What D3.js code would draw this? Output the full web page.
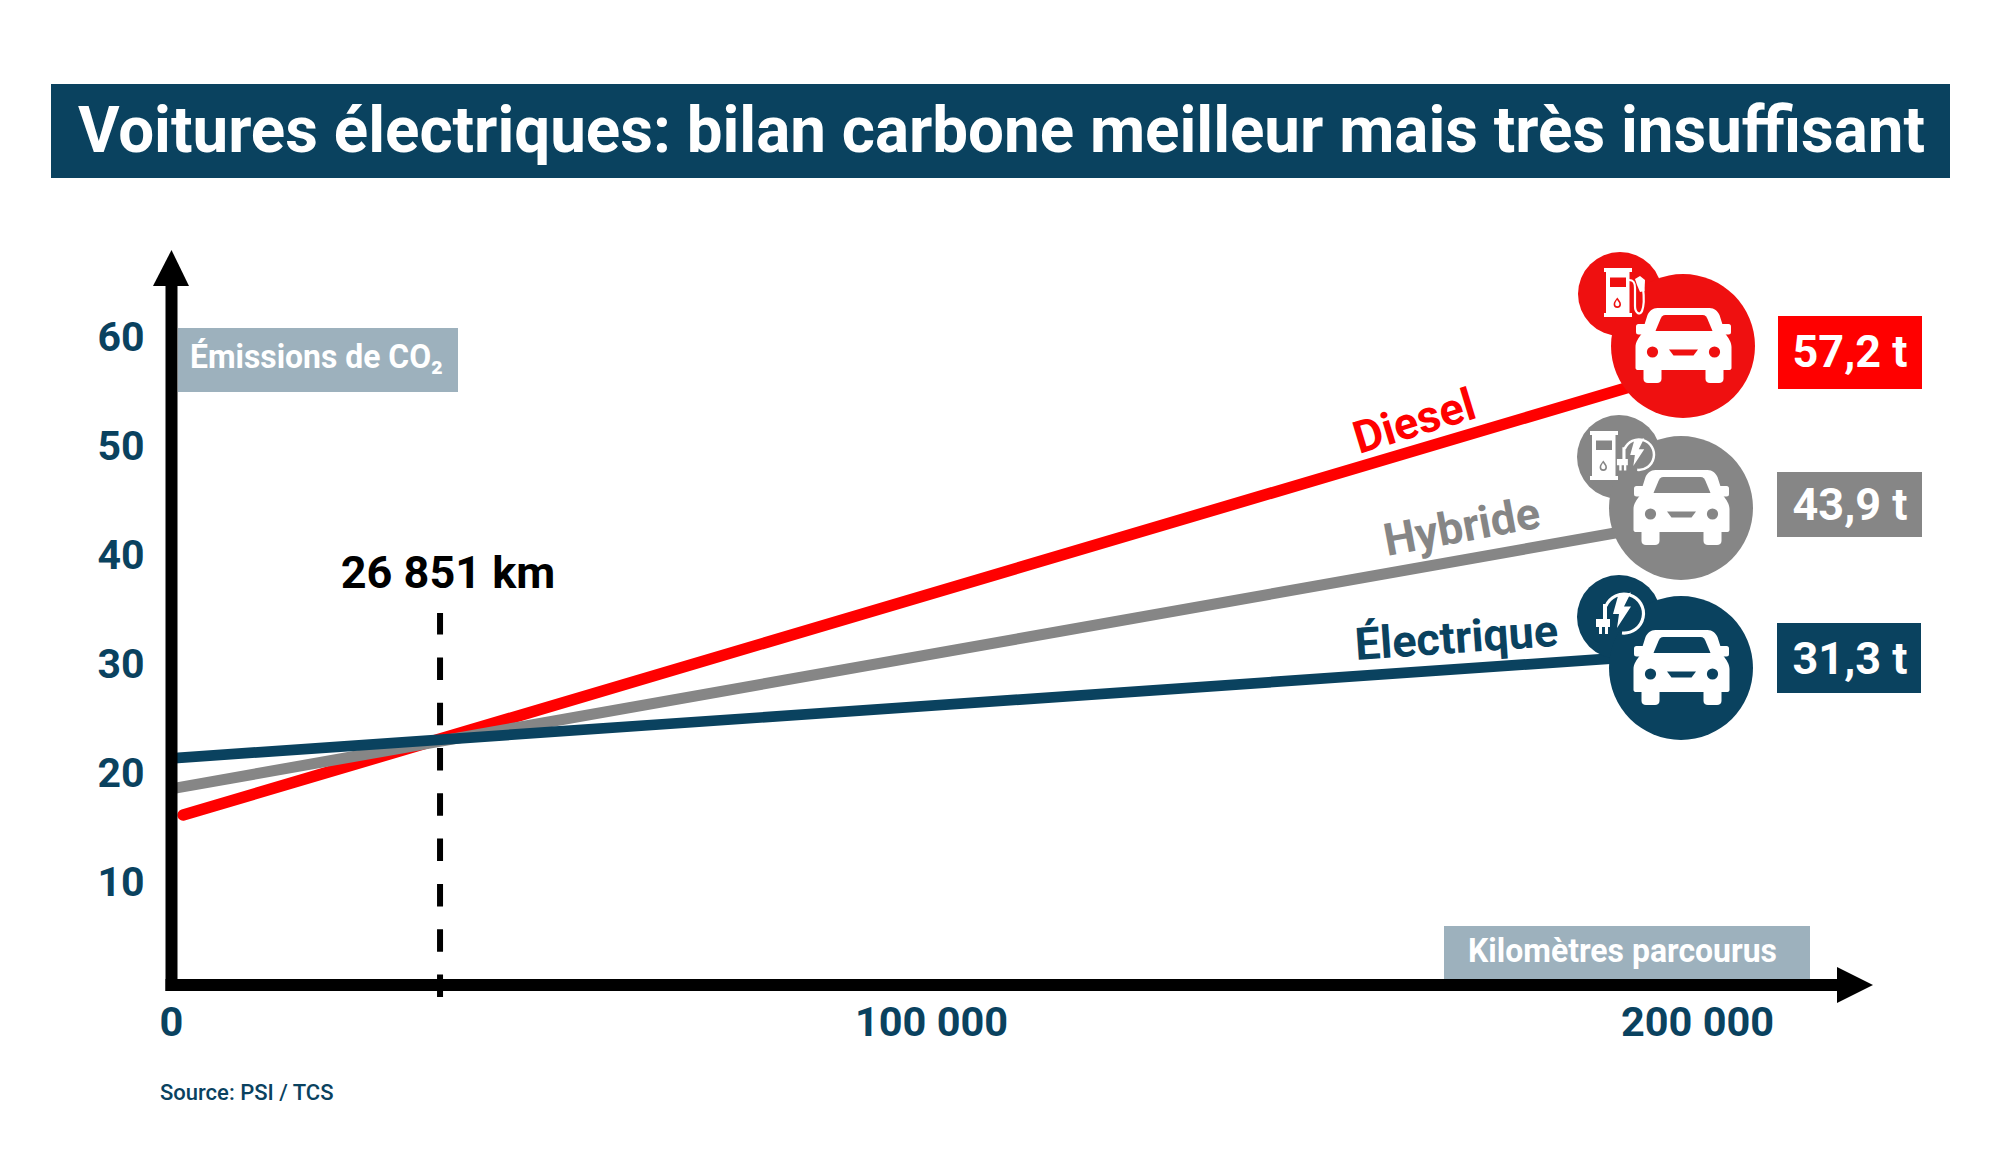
<!DOCTYPE html>
<html lang="fr">
<head>
<meta charset="utf-8">
<script src="https://cdn.jsdelivr.net/npm/d3@7"></script>
<style>
  body { margin: 0; background: #fff; }
  text { font-family: Roboto, sans-serif; font-weight: 700; }
</style>
</head>
<body>
<script>
// values
const kmTicks = [0, 100000, 200000];
const co2Ticks = [10, 20, 30, 40, 50, 60];
const seriesNames = ["Diesel", "Hybride", "Électrique"];
const endLabels = ["57,2 t", "43,9 t", "31,3 t"];
const dieselLine = [[1600, 16.1], [200000, 57.2]];
const hybridLine = [[0, 18.5], [200000, 43.3]];
const electricLine = [[0, 21.3], [200000, 31]];
// the dashed marker does not sit at 26 851 on the km axis in the original
const markerKm = 35400;
const markerLabel = "26 851 km";

const navy = "#0a425f", red = "#ff0000", grey = "#868686", pale = "#9db1bd";

const svg = d3.select("body").append("svg")
  .attr("width", 2000).attr("height", 1167);

// tick labels in the original are not quite evenly spaced
const x = d3.scaleLinear().domain([0, 100000, 200000]).range([171, 931, 1697]);
const y = d3.scaleLinear().domain([0, 60]).range([990.5, 336.5]);
const fr = d3.formatLocale({ decimal: ",", thousands: " ", grouping: [3], currency: ["", ""] });

// title
svg.append("rect").attr("x", 51).attr("y", 84).attr("width", 1899).attr("height", 94).attr("fill", navy);
svg.append("text").attr("x", 78).attr("y", 152)
  .attr("font-size", 64).attr("fill", "#fff")
  .attr("textLength", 1847).attr("lengthAdjust", "spacingAndGlyphs")
  .text("Voitures électriques: bilan carbone meilleur mais très insuffisant");

// axis captions
svg.append("rect").attr("x", 178).attr("y", 328).attr("width", 280).attr("height", 64).attr("fill", pale);
svg.append("text").attr("x", 190).attr("y", 368)
  .attr("font-size", 33).attr("fill", "#fff").attr("textLength", 253).attr("lengthAdjust", "spacingAndGlyphs")
  .text("Émissions de CO₂");

svg.append("rect").attr("x", 1444).attr("y", 926).attr("width", 366).attr("height", 53).attr("fill", pale);
svg.append("text").attr("x", 1468).attr("y", 962)
  .attr("font-size", 33).attr("fill", "#fff").attr("textLength", 309).attr("lengthAdjust", "spacingAndGlyphs")
  .text("Kilomètres parcourus");

// dashed marker
svg.append("line")
  .attr("x1", x(markerKm)).attr("x2", x(markerKm)).attr("y1", 997).attr("y2", 613)
  .attr("stroke", "#000").attr("stroke-width", 6).attr("stroke-dasharray", "22.5 22.8");
svg.append("text").attr("x", 448).attr("y", 588)
  .attr("text-anchor", "middle").attr("font-size", 45).attr("fill", "#000")
  .text(markerLabel);

// lines
const line = d3.line().x(d => x(d[0])).y(d => y(d[1]));
svg.append("path").datum(dieselLine).attr("d", line)
  .attr("fill", "none").attr("stroke", red).attr("stroke-width", 11.5).attr("stroke-linecap", "round");
svg.append("path").datum(hybridLine).attr("d", line)
  .attr("fill", "none").attr("stroke", grey).attr("stroke-width", 11);
svg.append("path").datum(electricLine).attr("d", line)
  .attr("fill", "none").attr("stroke", navy).attr("stroke-width", 10.7);

// black axes with arrow heads
svg.append("line").attr("x1", 171.5).attr("x2", 171.5).attr("y1", 991).attr("y2", 280)
  .attr("stroke", "#000").attr("stroke-width", 12);
svg.append("path").attr("d", "M153,286L171.5,250L189,286Z").attr("fill", "#000");
svg.append("line").attr("x1", 165.5).attr("x2", 1845).attr("y1", 985).attr("y2", 985)
  .attr("stroke", "#000").attr("stroke-width", 12);
svg.append("path").attr("d", "M1837,967L1873,985L1837,1003Z").attr("fill", "#000");

// tick labels
const yAxis = svg.append("g").attr("transform", "translate(156,1)")
  .call(d3.axisLeft(y).tickValues(co2Ticks).tickSize(0).tickPadding(11.5));
const xAxis = svg.append("g").attr("transform", "translate(0,985)")
  .call(d3.axisBottom(x).tickValues(kmTicks).tickSize(0).tickPadding(22).tickFormat(fr.format(",")));
[yAxis, xAxis].forEach(a => {
  a.select(".domain").remove();
  a.selectAll("text").attr("fill", navy)
    .style("font-family", "Roboto, sans-serif").style("font-weight", 700);
});
yAxis.selectAll("text").attr("font-size", 41);
xAxis.selectAll("text").attr("font-size", 41.5);

// series labels along the lines
const labelPlacing = [
  { x: 1359, y: 454, angle: -17, size: 45, fill: red },
  { x: 1387, y: 556, angle: -10.5, size: 45, fill: grey },
  { x: 1356, y: 660, angle: -4, size: 45, fill: navy }
];
seriesNames.forEach((name, i) => {
  const p = labelPlacing[i];
  svg.append("text")
    .attr("transform", `translate(${p.x},${p.y}) rotate(${p.angle})`)
    .attr("font-size", p.size).attr("fill", p.fill).text(name);
});

// icons, drawn around their own centre
function drawCar(g, bg) {
  g.append("path").attr("fill", "#fff").attr("d",
    "M-26,-38H26C31,-38 34,-35 36,-31L42,-12C45,-8 48,-4 48,1V22C48,23 47,24 46,24H40V33" +
    "C40,35.5 38,37 35.5,37H26.5C24,37 22,35.5 22,33V24H-22V33" +
    "C-22,35.5 -24,37 -26.5,37H-35.5C-38,37 -40,35.5 -40,33V24H-46C-47,24 -48,23 -48,22V1" +
    "C-48,-4 -45,-8 -42,-12L-36,-31C-34,-35 -31,-38 -26,-38Z");
  g.append("rect").attr("x", -47.5).attr("y", -22).attr("width", 13).attr("height", 10.5).attr("rx", 2.5).attr("fill", "#fff");
  g.append("rect").attr("x", 34.5).attr("y", -22).attr("width", 13).attr("height", 10.5).attr("rx", 2.5).attr("fill", "#fff");
  g.append("path").attr("fill", bg).attr("d", "M-18,-31H19C22,-31 23,-29 24,-27L29,-15H-28L-23,-27C-22,-29 -21,-31 -18,-31Z");
  g.append("circle").attr("cx", -31).attr("cy", 6).attr("r", 5.6).attr("fill", bg);
  g.append("circle").attr("cx", 31).attr("cy", 6).attr("r", 5.6).attr("fill", bg);
  g.append("path").attr("fill", bg).attr("d", "M-14.5,3.5H14.5L10,9.5H-10Z");
}

function drawPump(g, bg, hose) {
  g.append("path").attr("fill", "#fff").attr("fill-rule", "evenodd").attr("d",
    "M-16,-26H12V-22H9.5V19H12V23H-16V19H-14V-22H-16Z" +
    "M-10,-16.5V-7H6V-16.5Z");
  g.append("path").attr("fill", bg).attr("d",
    "M-2.7,3.5C-1,6 1,8 1,10.2A3.7,3.7 0 0 1 -6.4,10.2C-6.4,8 -4.4,6 -2.7,3.5Z");
  g.append("path").attr("fill", "#fff").attr("d",
    "M-3,5.8C-3.8,7.5 -4.8,8.6 -4.8,10.2A2.1,2.1 0 0 0 -0.6,10.2C-0.6,8.6 -2,7.5 -3,5.8Z");
  if (hose) {
    g.append("path").attr("fill", "none").attr("stroke", "#fff").attr("stroke-width", 2.2)
      .attr("d", "M9,-14C14,-14 15,-11 15,-6V12C15,19 20,22 22,17C24,12 24,2 23,-6");
    g.append("path").attr("fill", "#fff").attr("d", "M15,-15L20,-18L25,-14L24.5,-3L20,-2L17,-9Z");
  }
}

function drawPlug(g, scale) {
  const s = g.append("g").attr("transform", `scale(${scale})`);
  s.append("path").attr("fill", "none").attr("stroke", "#fff").attr("stroke-width", 3.2)
    .attr("d", "M-17,-8A19.5,19.5 0 1 1 -1,19");
  s.append("path").attr("fill", "#fff").attr("d",
    "M8,-21.5L-5,-18L-10,0H-4L-6,14L8,-7.5H1Z");
  s.append("path").attr("fill", "#fff").attr("d",
    "M-20,-10H-16V5H-13V13H-15V20H-18V13H-21V20H-24V13H-27V5H-20Z");
}

const badges = [
  { car: [1683, 346], badge: [1620, 294], fill: "#ef1010", kind: "fuel" },
  { car: [1681, 508], badge: [1619, 457], fill: grey, kind: "hybrid" },
  { car: [1681, 668], badge: [1619, 617], fill: navy, kind: "electric" }
];
badges.forEach(b => {
  const g = svg.append("g");
  g.append("circle").attr("cx", b.badge[0]).attr("cy", b.badge[1]).attr("r", 42).attr("fill", b.fill);
  g.append("circle").attr("cx", b.car[0]).attr("cy", b.car[1]).attr("r", 72).attr("fill", b.fill);
  drawCar(g.append("g").attr("transform", `translate(${b.car[0] + 0.5},${b.car[1]})`), b.fill);
  const icon = g.append("g").attr("transform", `translate(${b.badge[0]},${b.badge[1]})`);
  if (b.kind === "fuel") drawPump(icon, b.fill, true);
  if (b.kind === "hybrid") {
    drawPump(icon.append("g").attr("transform", "translate(-13,0)"), b.fill, false);
    drawPlug(icon.append("g").attr("transform", "translate(19,-2)"), 0.78);
  }
  if (b.kind === "electric") drawPlug(icon.append("g").attr("transform", "translate(4,-3)"), 1);
});

// end values
const endBoxes = [
  { x: 1778, y: 316, w: 144, h: 73, base: 367, fill: red },
  { x: 1777, y: 472, w: 145, h: 65, base: 520, fill: grey },
  { x: 1777, y: 623, w: 144, h: 70, base: 674, fill: navy }
];
endLabels.forEach((label, i) => {
  const b = endBoxes[i];
  svg.append("rect").attr("x", b.x).attr("y", b.y).attr("width", b.w).attr("height", b.h).attr("fill", b.fill);
  svg.append("text").attr("x", 1850).attr("y", b.base).attr("text-anchor", "middle")
    .attr("font-size", 45).attr("fill", "#fff").text(label);
});

svg.append("text").attr("x", 160).attr("y", 1100)
  .attr("font-size", 22).attr("fill", navy).style("font-weight", 500)
  .text("Source: PSI / TCS");
</script>
</body>
</html>
